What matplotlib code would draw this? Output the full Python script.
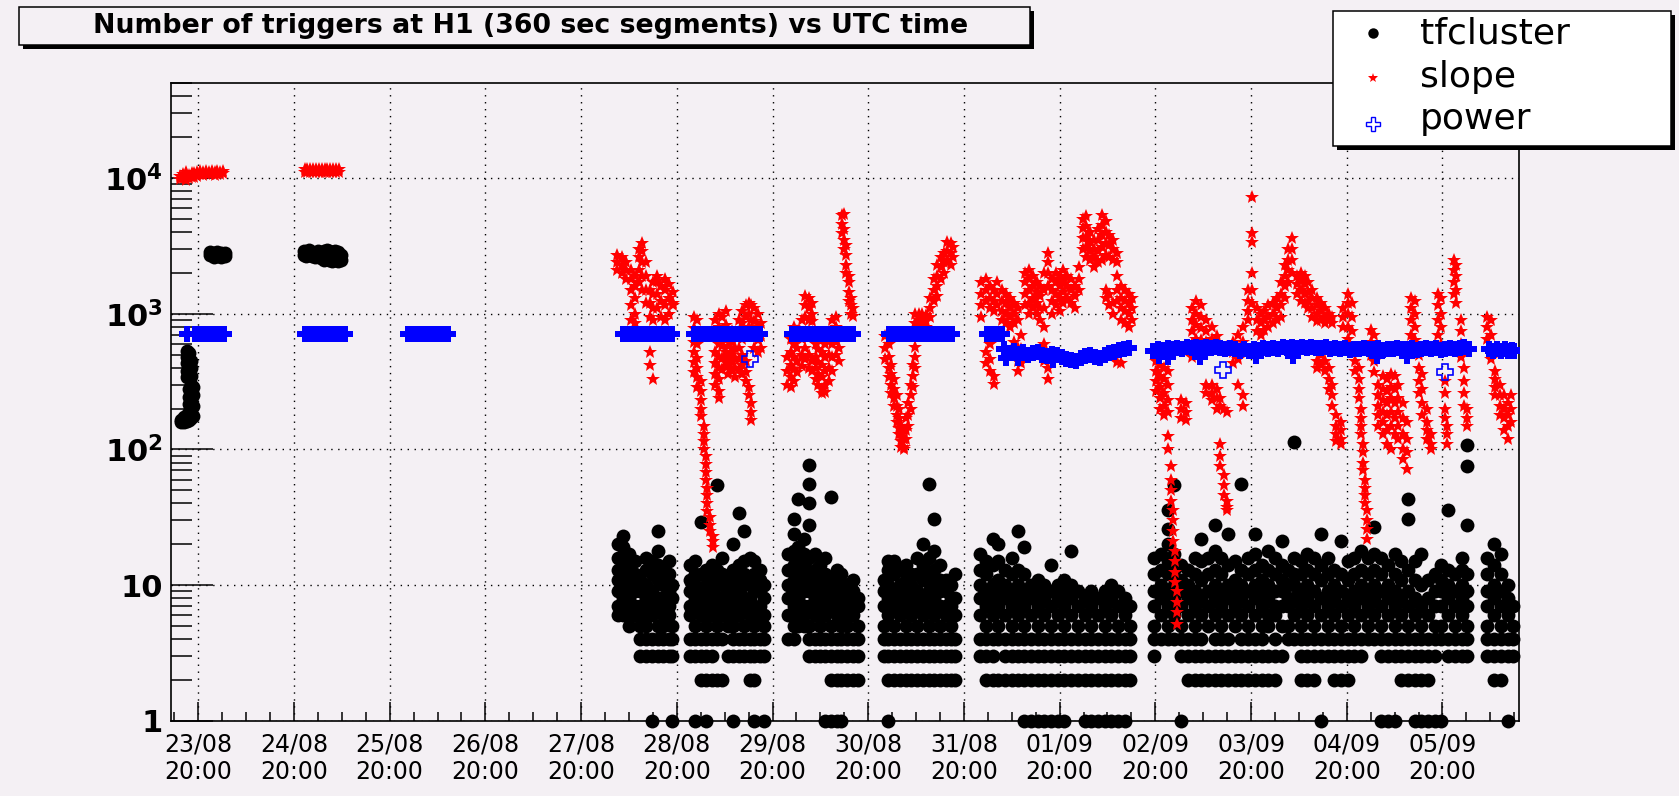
import matplotlib
matplotlib.use("Agg")
import matplotlib.pyplot as plt
from matplotlib.lines import Line2D
from matplotlib.patches import Rectangle
from matplotlib.ticker import FixedLocator, LogLocator, MultipleLocator, NullFormatter

plt.rcParams["font.family"] = ["DejaVu Sans"]

# time axis: days after 23/08 20:00 UTC
day_labels = ["23/08", "24/08", "25/08", "26/08", "27/08", "28/08", "29/08",
              "30/08", "31/08", "01/09", "02/09", "03/09", "04/09", "05/09"]
day_ticks = list(range(14))
y_ticks = [1, 10, 100, 1000, 10000]
y_labels = ["1", "10", r"$\mathbf{10^{2}}$", r"$\mathbf{10^{3}}$", r"$\mathbf{10^{4}}$"]
title = "Number of triggers at H1 (360 sec segments) vs UTC time"

# tfcluster: one entry per time column, list of counts read in that column
tf_times = [
    -0.18, -0.15, -0.12, -0.10, -0.08, -0.06,
    0.12, 0.16, 0.20, 0.24, 0.28,
    1.10, 1.13, 1.16, 1.19, 1.22, 1.25, 1.28, 1.31, 1.34, 1.37, 1.40, 1.43, 1.46, 1.49,
    4.39, 4.44, 4.50, 4.56, 4.62, 4.68, 4.74, 4.80, 4.86, 4.92, 4.95,
    5.14, 5.19, 5.25, 5.31, 5.37, 5.42, 5.47, 5.53, 5.59, 5.65, 5.70, 5.76, 5.81, 5.87, 5.91,
    6.16, 6.22, 6.27, 6.33, 6.38, 6.44, 6.50, 6.55, 6.61, 6.67, 6.72, 6.78, 6.84, 6.89,
    7.16, 7.21, 7.27, 7.33, 7.39, 7.45, 7.51, 7.57, 7.63, 7.69, 7.75, 7.81, 7.86, 7.91,
    8.17, 8.23, 8.30, 8.36, 8.43, 8.50, 8.57, 8.63, 8.70, 8.77, 8.84, 8.91,
    8.98, 9.05, 9.12, 9.19, 9.26, 9.33, 9.40, 9.47, 9.54, 9.61, 9.68, 9.74,
    9.99, 10.06, 10.13, 10.20, 10.27, 10.34, 10.41, 10.48, 10.55, 10.62, 10.69, 10.76,
    10.83, 10.90, 10.97, 11.04, 11.11, 11.18, 11.25, 11.32, 11.39, 11.45, 11.52, 11.59,
    11.66, 11.73, 11.80, 11.87, 11.94, 12.01, 12.08, 12.15, 12.22, 12.29, 12.36, 12.43,
    12.50, 12.57, 12.64, 12.71, 12.78, 12.85, 12.92, 12.99, 13.06, 13.13, 13.20, 13.26,
    13.47, 13.54, 13.61, 13.68, 13.74,
]
tf_counts = [
    [158, 165], [160, 172], [162, 180, 340, 380, 430, 480, 530],
    [165, 190, 215, 245, 280, 360, 410, 460, 510], [170, 200, 230, 265, 300, 350, 400, 450],
    [175, 210, 250, 290],
    [2700, 2850], [2600, 2800], [2650, 2850], [2600, 2800], [2650, 2800],
    [2700, 2900], [2650, 2850], [2700, 2950], [2650, 2850], [2600, 2800], [2650, 2900],
    [2550, 2750], [2500, 2700, 2900], [2550, 2750, 2950], [2500, 2700, 2900],
    [2450, 2650, 2850], [2500, 2700, 2900], [2450, 2650, 2850], [2500, 2700],
    # 28/08
    [6, 7, 9, 11, 13, 16, 20], [6, 7, 8, 10, 12, 15, 19, 23], [5, 6, 8, 9, 11, 14, 17],
    [6, 7, 9, 10, 12, 15], [3, 4, 5, 6, 7, 9, 11], [3, 4, 5, 6, 8, 10, 13, 16],
    [1, 3, 4, 6, 7, 9, 12, 15], [3, 4, 5, 7, 8, 11, 14, 18, 25], [3, 4, 5, 6, 8, 10, 13],
    [3, 4, 6, 7, 9, 12, 15], [1, 3, 4, 5, 8, 10],
    # 29/08
    [3, 4, 6, 7, 9, 11, 14], [1, 3, 4, 5, 7, 8, 10, 12, 15], [2, 3, 4, 6, 7, 9, 12, 29],
    [1, 2, 3, 4, 5, 6, 8, 10, 13], [2, 3, 4, 6, 7, 9, 11, 14], [2, 4, 5, 7, 8, 10, 13, 55],
    [2, 4, 6, 8, 10, 12, 16], [3, 5, 6, 7, 9, 11], [1, 3, 4, 5, 6, 8, 10, 13, 20],
    [3, 4, 6, 7, 9, 11, 14, 34], [3, 4, 5, 7, 8, 10, 12, 15, 25], [2, 3, 4, 6, 8, 11, 16],
    [1, 2, 3, 4, 5, 7, 9, 12, 15], [3, 4, 6, 7, 9, 11, 13], [1, 3, 4, 5, 6, 8, 10],
    # 30/08
    [4, 6, 8, 10, 13, 17], [4, 5, 7, 9, 11, 14, 18, 24, 31], [5, 6, 8, 10, 12, 15, 19, 43],
    [5, 6, 7, 9, 11, 14, 17, 22], [3, 4, 5, 7, 9, 12, 16, 28, 40, 56, 77],
    [3, 4, 6, 8, 10, 13, 17], [3, 4, 5, 7, 9, 11, 14], [1, 3, 4, 6, 8, 10, 12, 16],
    [1, 2, 3, 4, 5, 7, 9, 11, 45], [1, 2, 3, 4, 6, 8, 10, 13], [1, 2, 3, 4, 5, 7, 9, 12],
    [2, 3, 4, 5, 6, 8, 10], [2, 3, 4, 6, 7, 9, 11], [2, 3, 4, 5, 7, 8],
    # 31/08
    [3, 4, 5, 7, 9, 11], [1, 2, 3, 4, 6, 8, 10, 13, 15], [2, 3, 4, 5, 7, 9, 12, 15],
    [2, 3, 4, 6, 8, 10, 13], [2, 3, 4, 5, 7, 9, 11, 14], [2, 3, 4, 6, 8, 10, 12],
    [2, 3, 4, 5, 7, 9, 12, 16], [2, 3, 4, 6, 8, 11, 14, 20], [2, 3, 4, 5, 7, 9, 12, 16, 56],
    [2, 3, 4, 6, 8, 10, 13, 18, 31], [2, 3, 4, 5, 7, 9, 11, 14], [2, 3, 4, 6, 7, 9, 11],
    [2, 3, 4, 5, 7, 8, 10], [2, 3, 4, 6, 8, 12],
    # 01/09
    [3, 4, 6, 8, 10, 13, 17], [2, 3, 4, 5, 7, 9, 12, 15], [2, 3, 4, 6, 8, 10, 14, 22],
    [2, 4, 5, 7, 9, 11, 15, 20], [2, 3, 4, 6, 8, 10, 13], [2, 3, 4, 5, 7, 9, 12, 16],
    [2, 3, 4, 6, 8, 10, 13, 25], [1, 2, 3, 4, 5, 7, 9, 12, 19], [1, 2, 3, 4, 6, 8, 10],
    [1, 2, 3, 4, 5, 7, 9, 11], [1, 2, 3, 4, 6, 8, 10], [1, 2, 3, 4, 5, 7, 9, 14],
    [1, 2, 3, 4, 6, 8, 10], [1, 2, 3, 4, 5, 7, 9, 11], [2, 3, 4, 6, 8, 10, 18],
    [2, 3, 4, 5, 7, 9], [1, 2, 3, 4, 6, 8], [1, 2, 3, 4, 5, 7, 9], [1, 2, 3, 4, 6, 8],
    [1, 2, 3, 4, 5, 7, 9], [1, 2, 3, 4, 6, 8, 10], [1, 2, 3, 4, 5, 7, 9], [1, 2, 3, 4, 6, 8],
    [2, 3, 4, 5, 7],
    # 02/09 - 05/09
    [3, 4, 5, 7, 9, 12, 16], [4, 6, 8, 10, 13, 17], [4, 5, 7, 9, 12, 15, 20, 26, 36],
    [4, 6, 8, 10, 13, 17, 55], [1, 3, 4, 5, 7, 9, 11, 14], [2, 3, 4, 6, 8, 10, 13],
    [2, 3, 4, 5, 7, 9, 12, 16], [2, 3, 4, 6, 8, 11, 15, 22], [2, 3, 5, 7, 9, 12, 16],
    [2, 3, 4, 6, 8, 10, 13, 18, 28], [2, 3, 4, 5, 7, 9, 12, 16], [2, 3, 4, 6, 8, 10, 14, 24],
    [2, 3, 5, 7, 9, 11, 15], [2, 3, 4, 6, 8, 10, 13, 56], [2, 3, 4, 5, 7, 9, 12, 16],
    [2, 3, 4, 6, 8, 10, 13, 17, 24], [2, 3, 4, 5, 7, 9, 11, 14], [2, 3, 5, 6, 8, 10, 13, 18],
    [2, 3, 4, 6, 7, 9, 12, 16], [3, 5, 7, 9, 11, 14, 21], [4, 5, 7, 8, 10, 13],
    [4, 6, 8, 10, 12, 16, 114], [2, 3, 4, 5, 7, 9, 12, 15], [2, 3, 4, 6, 8, 10, 13, 17],
    [2, 3, 4, 5, 7, 9, 12, 16], [1, 3, 4, 6, 8, 11, 14, 24], [3, 4, 5, 7, 9, 12, 16],
    [2, 3, 4, 6, 8, 10, 13], [2, 3, 4, 5, 7, 9, 12, 21], [2, 3, 4, 6, 8, 11, 15],
    [3, 4, 5, 7, 9, 12, 16], [3, 4, 6, 8, 10, 13, 18], [4, 5, 7, 9, 12, 16],
    [4, 6, 8, 10, 13, 17, 27], [1, 3, 4, 5, 7, 9, 12, 16], [1, 3, 4, 6, 8, 10, 14],
    [1, 3, 4, 5, 7, 9, 12, 17], [2, 3, 4, 6, 8, 11, 15], [2, 3, 4, 5, 7, 9, 13, 31, 43],
    [1, 2, 3, 4, 6, 8, 11, 15], [1, 2, 3, 4, 5, 7, 10, 17], [1, 2, 3, 4, 6, 8, 11],
    [1, 3, 4, 5, 7, 9, 12], [1, 4, 5, 7, 9, 11, 14], [3, 4, 6, 8, 10, 13, 36],
    [3, 4, 5, 7, 9, 12], [3, 4, 6, 8, 10, 13, 16], [3, 4, 5, 7, 9, 12, 28, 75, 107],
    [3, 4, 5, 7, 9, 12, 16], [2, 3, 4, 6, 8, 10, 14, 20], [2, 3, 4, 5, 7, 9, 12, 17],
    [1, 3, 4, 6, 8, 10], [3, 4, 5, 7],
]

# slope
slope_times = [
    -0.19, -0.16, -0.13, -0.10, -0.07, -0.04, -0.01, 0.02, 0.05, 0.08, 0.11, 0.14,
    0.17, 0.20, 0.23, 0.26,
    1.11, 1.14, 1.17, 1.20, 1.23, 1.26, 1.29, 1.32, 1.35, 1.38, 1.41, 1.44, 1.47,
    4.38, 4.43, 4.47, 4.52, 4.56, 4.60, 4.64, 4.68, 4.72, 4.75, 4.79, 4.84, 4.88, 4.92, 4.96,
    5.18, 5.21, 5.25, 5.28, 5.30, 5.32, 5.35, 5.38, 5.40, 5.44, 5.47, 5.51, 5.54, 5.58,
    5.61, 5.65, 5.68, 5.72, 5.75, 5.78, 5.81, 5.85, 5.88,
    6.15, 6.19, 6.22, 6.26, 6.31, 6.34, 6.38, 6.41, 6.45, 6.48, 6.52, 6.55, 6.59, 6.62,
    6.66, 6.69, 6.73, 6.75, 6.77, 6.80, 6.82, 6.84,
    7.18, 7.22, 7.24, 7.27, 7.30, 7.32, 7.34, 7.37, 7.40, 7.42, 7.45, 7.47, 7.49, 7.53,
    7.56, 7.60, 7.65, 7.69, 7.72, 7.76, 7.79, 7.82, 7.86, 7.89,
    8.18, 8.23, 8.27, 8.31, 8.35,
    8.40, 8.44, 8.48, 8.52, 8.56, 8.60, 8.64, 8.68, 8.72, 8.76, 8.80, 8.84, 8.88, 8.92,
    8.96, 9.00, 9.04, 9.08, 9.12, 9.16, 9.20, 9.24, 9.28, 9.32, 9.36, 9.40, 9.44, 9.48,
    9.52, 9.56, 9.60, 9.64, 9.68, 9.72, 9.76,
    10.01, 10.05, 10.09, 10.13, 10.16, 10.18, 10.21, 10.23, 10.27, 10.32,
    10.38, 10.43, 10.48, 10.53, 10.59, 10.64, 10.68, 10.72, 10.75, 10.81,
    10.86, 10.92, 10.97, 11.01, 11.06, 11.10, 11.14, 11.18, 11.23, 11.27,
    11.31, 11.35, 11.39, 11.43, 11.48, 11.52, 11.56, 11.60, 11.64, 11.69,
    11.73, 11.77, 11.81, 11.85, 11.89, 11.94,
    11.96, 12.01, 12.06, 12.09, 12.13, 12.15, 12.17, 12.19, 12.21, 12.25,
    12.29, 12.33, 12.38, 12.42, 12.46, 12.50, 12.54, 12.59, 12.63, 12.67,
    12.71, 12.75, 12.79, 12.84, 12.88, 12.95, 12.99, 13.03, 13.05, 13.12,
    13.14, 13.19, 13.23, 13.26,
    13.47, 13.51, 13.55, 13.60, 13.64, 13.68, 13.72,
]
slope_vals = [
    [9800, 10300], [9900, 10600], [9700, 10200, 11000], [9900, 10500], [10100, 10900],
    [10200, 10800], [10400, 11100], [10600, 11200], [10500, 11000], [10700, 11300],
    [10600, 11100], [10800, 11300], [10500, 11000], [10700, 11200], [10600, 11100],
    [10800, 11200],
    [11000, 11600], [11100, 11700], [11000, 11600], [11100, 11700], [11000, 11600],
    [11100, 11700], [11000, 11600], [11100, 11700], [11000, 11600], [11100, 11700],
    [11000, 11600], [11100, 11700], [11000, 11600],
    # 28/08
    [2100, 2400, 2700], [2000, 2300, 2600], [1800, 2100, 2400], [1500, 1800, 2100, 1150, 900],
    [1300, 1600, 1900, 1000, 850], [1700, 2100, 2600, 3000], [1500, 1900, 2400, 3300, 2900],
    [1200, 1500, 1900, 2400], [950, 1200, 1500, 520, 420], [900, 1100, 1400, 1700, 330],
    [1100, 1400, 1750, 1900], [950, 1250, 1600], [900, 1150, 1500, 1800], [1000, 1300, 1650],
    [1150, 1450, 1200],
    # 29/08
    [950, 780, 620, 520, 440, 370], [900, 600, 470, 400, 340, 290],
    [700, 320, 270, 230, 200, 175], [150, 130, 115, 100], [90, 78, 68, 60], [52, 46, 40, 35],
    [32, 28, 25], [23, 21, 19], [900, 700, 520, 430, 360, 300],
    [1000, 800, 600, 480, 400, 330, 270, 240], [950, 750, 580, 470, 390],
    [1050, 820, 640, 520, 440], [700, 580, 480, 410, 360], [750, 620, 520, 440, 380],
    [680, 560, 470, 400, 340], [900, 700, 560, 460, 390], [1050, 850, 650, 500, 420, 360],
    [1150, 950, 750, 450, 370, 320], [1200, 1000, 800, 290, 250], [1150, 900, 220, 190, 165],
    [1100, 880, 700, 560], [1000, 800, 640, 520], [850, 680, 560],
    # 30/08
    [480, 380, 300], [650, 520, 420, 340, 290], [800, 600, 480, 390, 320], [750, 560, 450, 370],
    [900, 650, 500, 410], [1350, 1150, 950, 560, 460], [1300, 1100, 900, 500, 400],
    [1200, 1000, 880, 450, 380], [600, 480, 400, 330], [550, 440, 360, 300],
    [520, 420, 340, 280, 260], [600, 480, 380, 300, 265], [650, 500, 400, 320],
    [900, 750, 600, 480, 380], [950, 800, 620, 500], [700, 560, 450], [5300, 4600, 3900],
    [5400, 4200, 3500, 3000], [3200, 2700, 2300, 2000], [1900, 1700, 1450, 1250],
    [1300, 1150, 1000], [1100, 960],
    # 31/08
    [680, 560, 460], [600, 480, 400, 340], [420, 360, 300, 260], [330, 280, 240, 210],
    [250, 210, 180, 160], [200, 170, 145, 130], [150, 130, 115, 105], [140, 120, 105, 100],
    [170, 140, 120], [220, 180, 150], [300, 250, 200], [420, 350, 290],
    [570, 480, 400, 1000, 850], [1000, 900, 800], [1000, 900, 820], [980, 880, 800],
    [1300, 1100, 950], [1800, 1500, 1250], [2300, 1900, 1600, 1350], [2600, 2200, 1800],
    [2800, 2400, 2000], [3400, 2900, 2500], [3300, 2800, 2300], [3100, 2600],
    # 01/09
    [1700, 1400, 1150, 950], [1800, 1500, 1250, 520, 430], [1600, 1300, 1100, 600, 460, 380],
    [1500, 1250, 1050, 350, 305], [1700, 1400, 1150],
    [1500, 1250, 1050, 900], [1400, 1200, 1000, 850], [1300, 1100, 950, 800],
    [1200, 1000, 850, 620, 520], [1100, 900, 560, 450, 380], [700, 550, 430],
    [2000, 1700, 1400, 1150], [2100, 1800, 1500, 1200, 1000], [1900, 1600, 1300, 1100],
    [1700, 1450, 1200, 1000], [1600, 1350, 1100, 900], [2000, 1500, 1100, 800, 600, 450],
    [2800, 2400, 2000, 1600, 400, 330], [1800, 1500, 1250, 1000], [2000, 1700, 1400, 1150],
    [1900, 1600, 1300, 1050], [2100, 1750, 1450, 1200], [1900, 1600, 1300],
    [1800, 1500, 1200], [1600, 1350, 1100], [2200, 1800, 1500], [5000, 4300, 3600, 3000],
    [5200, 4400, 3700, 3100, 2600], [4000, 3400, 2900, 2500], [3500, 3000, 2600, 2200],
    [4200, 3500, 2900, 2400], [5300, 4500, 3800, 3100, 2500],
    [4800, 4000, 3300, 2700, 1500, 1300], [3800, 3200, 2600, 1400, 1150],
    [3500, 3000, 2500, 1200, 1000], [2800, 2400, 1900, 1500, 1250, 440],
    [1600, 1300, 1100, 900, 430], [1500, 1250, 1050, 850], [1400, 1200, 1000, 800],
    [1300, 1100, 900],
    # 02/09 - 04/09
    [450, 380, 320, 270], [420, 350, 290, 240, 200], [400, 330, 260, 210, 180],
    [380, 300, 230, 190, 125, 100], [75, 60, 50, 42], [36, 30, 25, 21], [18, 15, 12.5, 10.5],
    [9, 7.5, 6.3, 5.2], [230, 200, 170], [220, 190, 165],
    [1100, 900, 750, 600, 480], [1250, 1000, 820, 650, 520], [1150, 950, 780, 640],
    [900, 750, 620, 300, 260], [800, 650, 300, 260, 230], [680, 280, 240, 200],
    [110, 90, 75, 240, 210], [65, 55, 46, 200], [42, 38, 36, 190], [620, 520, 430],
    [700, 560, 460, 300], [800, 620, 250, 210], [1500, 1250, 1050, 900],
    [7200, 3900, 3400, 2000, 1500, 1200], [1100, 900, 750], [1000, 850, 700],
    [1050, 900, 760], [1150, 950, 800], [1200, 1000, 850], [1300, 1100, 900],
    [1700, 1400, 1150, 950], [2300, 1900, 1600, 1300], [3000, 2500, 2100, 1700],
    [3600, 3000, 2500, 2000], [1900, 1650, 1400], [2000, 1750, 1500, 1250],
    [1900, 1650, 1400, 1200], [1700, 1450, 1250, 1100], [1500, 1300, 1100, 950],
    [1300, 1150, 1000, 880, 450, 400], [1200, 1050, 900, 500, 420],
    [1100, 950, 850, 450, 380], [1000, 900, 400, 330, 280], [950, 850, 300, 250, 210],
    [180, 150, 130, 115], [160, 140, 120, 110],
    # 04/09 - 05/09
    [1100, 950, 800], [1400, 1200, 1000, 800, 650], [1200, 950, 750], [550, 450, 380],
    [400, 330, 280, 240], [200, 170, 150, 130], [110, 95, 80, 70], [60, 52, 46, 40],
    [36, 30, 26, 22], [760, 620, 500],
    [700, 560, 450, 370], [300, 250, 210, 180, 150], [350, 280, 230, 190, 160, 130],
    [330, 270, 220, 180, 140, 110], [360, 290, 240, 190, 150, 100], [350, 280, 220, 170, 130],
    [300, 240, 190, 150, 120], [220, 170, 130, 100, 85], [160, 120, 95, 72],
    [1300, 1100, 900, 700],
    [1250, 1000, 800, 640], [500, 400, 320, 260], [360, 280, 220, 180], [200, 160, 140, 120],
    [130, 110, 100], [1400, 1150, 900, 700], [1300, 1000, 800, 600], [320, 260, 200, 170],
    [150, 130, 110], [2500, 2100, 1700, 1400],
    [2300, 1900, 1500, 1200], [900, 750, 600, 480], [400, 320, 260, 210], [200, 170, 150],
    [950, 800, 650], [900, 700, 560, 460], [380, 330, 290, 250], [300, 250, 210, 180],
    [250, 200, 170, 140], [220, 180, 150, 120], [250, 200, 160],
]

# power, main band
power_times = [
    -0.12, -0.03, 0.03, 0.07, 0.11, 0.15, 0.19, 0.23, 0.27,
    1.11, 1.15, 1.19, 1.23, 1.27, 1.31, 1.35, 1.39, 1.43, 1.47, 1.51, 1.53,
    2.19, 2.23, 2.27, 2.31, 2.35, 2.39, 2.43, 2.47, 2.51, 2.55, 2.59, 2.61,
    4.44, 4.48, 4.52, 4.56, 4.60, 4.64, 4.68, 4.72, 4.76, 4.80, 4.84, 4.88, 4.92, 4.95,
    5.18, 5.22, 5.26, 5.30, 5.34, 5.38, 5.42, 5.46, 5.50, 5.54, 5.58, 5.62, 5.66, 5.70,
    5.74, 5.78, 5.82, 5.86, 5.87,
    6.20, 6.24, 6.28, 6.32, 6.36, 6.40, 6.44, 6.48, 6.52, 6.56, 6.60, 6.64, 6.68, 6.72,
    6.76, 6.80, 6.84,
    7.22, 7.26, 7.30, 7.34, 7.38, 7.42, 7.46, 7.50, 7.54, 7.58, 7.62, 7.66, 7.70, 7.74,
    7.78, 7.82, 7.86, 7.88,
    8.24, 8.28, 8.32, 8.36, 8.40,
    8.42, 8.47, 8.52, 8.57, 8.62, 8.67, 8.72, 8.77, 8.82, 8.87, 8.92, 8.97, 9.02, 9.07,
    9.12, 9.17, 9.22, 9.27, 9.32, 9.37, 9.42, 9.47, 9.52, 9.57, 9.62, 9.67, 9.72,
    8.44, 8.56, 8.93,
    9.98, 10.03, 10.08, 10.13, 10.18, 10.23, 10.28, 10.33, 10.38, 10.43, 10.48, 10.53,
    10.58, 10.63, 10.68, 10.73, 10.78, 10.83, 10.88, 10.93, 10.98, 11.03, 11.08, 11.13,
    11.18, 11.23, 11.28, 11.33, 11.38, 11.43, 11.48, 11.53, 11.58, 11.63, 11.68, 11.73,
    11.78, 11.83, 11.88, 11.93, 11.98, 12.03, 12.08, 12.13, 12.18, 12.23, 12.28, 12.33,
    12.38, 12.43, 12.48, 12.53, 12.58, 12.63, 12.68, 12.73, 12.78, 12.83, 12.88, 12.93,
    12.98, 13.03, 13.08, 13.13, 13.18, 13.23, 13.28,
    10.04, 10.13, 10.47, 11.05, 11.44, 12.32, 12.63,
    13.49, 13.53, 13.57, 13.61, 13.65, 13.69, 13.73, 13.75,
]
power_vals = [
    712, 712, 712, 712, 712, 712, 712, 712, 712,
    712, 712, 712, 712, 712, 712, 712, 712, 712, 712, 712, 712,
    712, 712, 712, 712, 712, 712, 712, 712, 712, 712, 712, 712,
    712, 712, 712, 712, 712, 712, 712, 712, 712, 712, 712, 712, 712, 712,
    712, 712, 712, 712, 712, 712, 712, 712, 712, 712, 712, 712, 712, 712,
    712, 712, 712, 712, 712,
    712, 712, 712, 712, 712, 712, 712, 712, 712, 712, 712, 712, 712, 712,
    712, 712, 712,
    712, 712, 712, 712, 712, 712, 712, 712, 712, 712, 712, 712, 712, 712,
    712, 712, 712, 712,
    712, 712, 712, 712, 712,
    545, 515, 530, 505, 520, 500, 515, 525, 500, 490, 505, 495, 480, 465,
    455, 450, 470, 490, 500, 480, 475, 495, 515, 525, 540, 545, 555,
    470, 475, 455,
    530, 550, 540, 555, 545, 560, 550, 565, 555, 570, 560, 565,
    555, 570, 560, 550, 560, 545, 530, 545, 535, 550, 540, 555,
    545, 560, 550, 565, 555, 570, 560, 565, 555, 570, 560, 555,
    565, 550, 560, 545, 555, 540, 550, 545, 560, 550, 545, 555,
    540, 550, 545, 560, 550, 545, 555, 540, 550, 560, 545, 555,
    540, 550, 560, 545, 555, 565, 550,
    485, 480, 480, 490, 485, 485, 490,
    545, 530, 550, 535, 545, 530, 540, 535,
]
# power, isolated low segments
power_low_times = [5.76, 10.71, 13.03]
power_low_vals = [460, 387, 375]

assert len(tf_times) == len(tf_counts)
assert len(slope_times) == len(slope_vals)
assert len(power_times) == len(power_vals)


def columns(times, cols):
    xs, ys = [], []
    for t, col in zip(times, cols):
        xs += [t] * len(col)
        ys += col
    return xs, ys


W, H = 1679, 796
BG = "#f4f0f4"

fig = plt.figure(figsize=(W / 100, H / 100), dpi=100, facecolor=BG)
ax = fig.add_axes([171 / W, 75 / H, 1348 / W, 638 / H], facecolor=BG)

x, y = columns(tf_times, tf_counts)
ax.plot(x, y, "o", color="black", ms=10, mew=0, ls="none", clip_on=False, zorder=3)
x, y = columns(slope_times, slope_vals)
ax.plot(x, y, "*", color="red", ms=10, mew=0, ls="none", clip_on=False, zorder=4)
ax.plot(power_times, power_vals, "P", color="blue", ms=11, mew=0, ls="none", zorder=5)
ax.plot(power_low_times, power_low_vals, "P", mfc="none", mec="blue", ms=11, mew=1.2,
        ls="none", zorder=5)

ax.set_yscale("log")
ax.set_ylim(1, 5e4)
ax.set_xlim(-0.285, 13.80)

ax.yaxis.set_major_locator(FixedLocator(y_ticks))
ax.set_yticklabels(y_labels)
ax.yaxis.set_minor_locator(LogLocator(base=10, subs=range(2, 10)))
ax.yaxis.set_minor_formatter(NullFormatter())
for lab in ax.get_yticklabels():
    lab.set_fontweight("bold")

ax.set_xticks(day_ticks)
ax.set_xticklabels([d + "\n20:00" for d in day_labels])
ax.xaxis.set_minor_locator(MultipleLocator(0.25))

ax.tick_params(axis="y", which="major", direction="in", length=30, width=1.1,
               labelsize=22, pad=6, right=False)
ax.tick_params(axis="y", which="minor", direction="in", length=15, width=1.1, right=False)
ax.tick_params(axis="x", which="major", direction="in", length=13.5, width=1.1,
               labelsize=17, pad=8, top=False)
ax.tick_params(axis="x", which="minor", direction="in", length=6.5, width=1.1, top=False)

ax.set_axisbelow(True)
ax.grid(True, which="major", color="black", linestyle=(0, (1, 4)), linewidth=1.0)
for sp in ax.spines.values():
    sp.set_linewidth(1.2)

# title box with shadow
fig.add_artist(Rectangle((23 / W, 1 - 49 / H), 1011 / W, 38 / H, transform=fig.transFigure,
                         facecolor="black", edgecolor="none", zorder=9))
fig.add_artist(Rectangle((19 / W, 1 - 45 / H), 1011 / W, 38 / H, transform=fig.transFigure,
                         facecolor=BG, edgecolor="black", lw=1.1, zorder=10))
fig.text(531 / W, 1 - 26 / H, title, ha="center", va="center", fontsize=19.3,
         fontweight="bold", zorder=11)

# legend box with shadow
fig.add_artist(Rectangle((1337 / W, 1 - 150 / H), 338 / W, 135 / H, transform=fig.transFigure,
                         facecolor="black", edgecolor="none", zorder=12))
fig.add_artist(Rectangle((1333 / W, 1 - 146 / H), 338 / W, 135 / H, transform=fig.transFigure,
                         facecolor="white", edgecolor="black", lw=1.1, zorder=13))
handles = [
    dict(marker="o", color="black", ms=7.5, mew=0),
    dict(marker="*", color="red", ms=7.5, mew=0),
    dict(marker="P", mfc="white", mec="blue", ms=9.5, mew=1.0),
]
names = ["tfcluster", "slope", "power"]
marker_y = [33, 78, 124]
text_y = [43, 87, 129]
for h, name, my, ty in zip(handles, names, marker_y, text_y):
    fig.add_artist(Line2D([1373 / W], [1 - my / H], ls="none", transform=fig.transFigure,
                          zorder=14, **h))
    fig.text(1420 / W, 1 - ty / H, name, fontsize=26, va="baseline", zorder=14)

fig.savefig("out.png", dpi=100, facecolor=BG)
